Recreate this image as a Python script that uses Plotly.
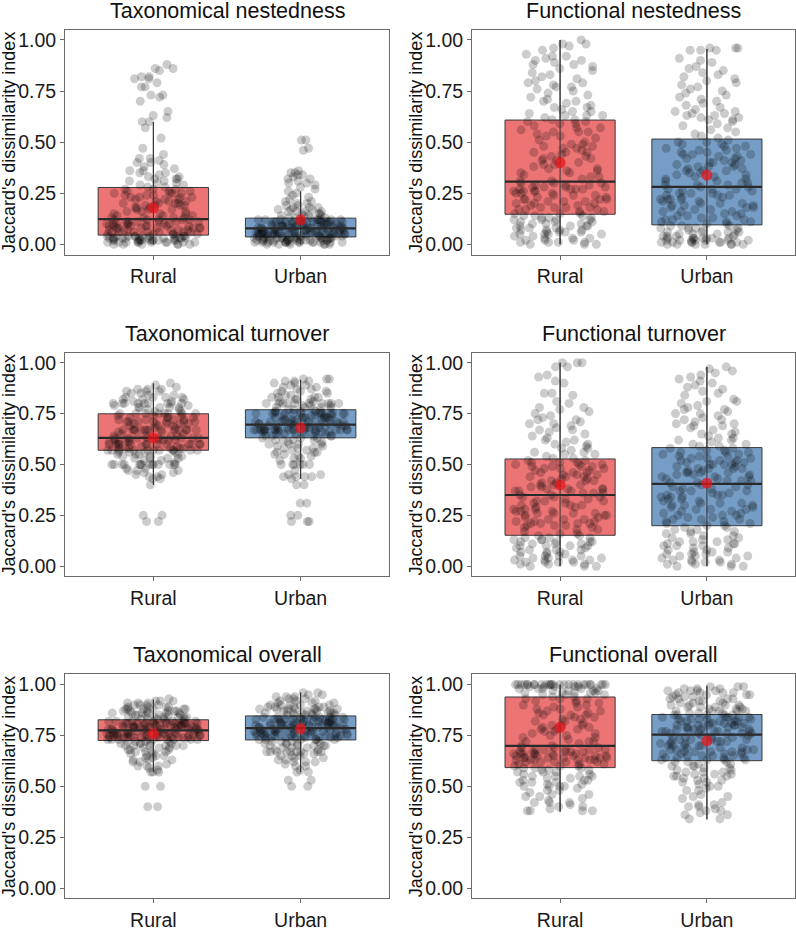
import plotly.graph_objects as go

groups = ["Rural", "Urban"]
panel_titles = ["Taxonomical nestedness", "Functional nestedness",
                "Taxonomical turnover", "Functional turnover",
                "Taxonomical overall", "Functional overall"]
y_ticks = [0, 0.25, 0.5, 0.75, 1.0]
y_ticklabels = ["0.00", "0.25", "0.50", "0.75", "1.00"]

# box statistics: [Rural, Urban]
q1 = [[0.045, 0.036], [0.147, 0.095], [0.570, 0.631], [0.152, 0.199], [0.725, 0.728], [0.592, 0.626]]
median = [[0.123, 0.078], [0.307, 0.281], [0.631, 0.696], [0.350, 0.405], [0.775, 0.786], [0.699, 0.754]]
q3 = [[0.278, 0.128], [0.608, 0.515], [0.749, 0.769], [0.527, 0.583], [0.827, 0.846], [0.939, 0.853]]
low_whisker = [[0.0, 0.0], [0.0, 0.0], [0.400, 0.429], [0.0, 0.0], [0.571, 0.571], [0.375, 0.337]]
high_whisker = [[0.598, 0.259], [1.0, 0.956], [0.898, 0.916], [1.0, 0.979], [0.926, 0.961], [1.0, 0.994]]
mean = [[0.178, 0.120], [0.399, 0.339], [0.631, 0.680], [0.400, 0.408], [0.759, 0.783], [0.790, 0.723]]

# individual pair values (estimated from the jittered clouds)
tax_nest_rural = [0.00,0.01,0.01,0.02,0.02,0.02,0.03,0.03,0.03,0.04,0.04,0.00,0.01,0.02,0.03,0.04,0.01,0.02,0.03,0.04,0.00,0.01,0.02,0.03,0.04,0.02,0.03,0.01,0.04,0.03,
                  0.05,0.05,0.06,0.06,0.07,0.07,0.08,0.08,0.08,0.09,0.09,0.10,0.10,0.10,0.11,0.11,0.12,0.12,0.05,0.06,0.07,0.08,0.09,0.10,0.11,0.06,0.08,0.12,0.09,0.11,
                  0.13,0.13,0.14,0.15,0.15,0.16,0.17,0.17,0.18,0.19,0.19,0.20,0.21,0.21,0.22,0.23,0.23,0.24,0.25,0.25,0.26,0.27,0.27,0.14,0.17,0.20,0.23,0.26,0.18,0.22,
                  0.28,0.29,0.30,0.31,0.32,0.32,0.33,0.34,0.35,0.36,0.38,0.40,0.41,0.42,0.47,0.52,0.57,0.60,0.62,0.63,0.70,0.72,0.73,0.77,0.79,0.81,0.82,0.85,0.86,0.88,
                  0.00,0.01,0.02,0.03,0.04,0.01,0.02,0.03,0.00,0.02,0.04,0.01,0.03,0.02,0.04,0.00,0.03,0.01,0.02,0.04,
                  0.05,0.06,0.07,0.08,0.09,0.10,0.11,0.12,0.06,0.07,0.09,0.10,0.12,0.05,0.08,0.11,0.07,0.09,0.10,0.06,
                  0.13,0.15,0.16,0.18,0.19,0.20,0.22,0.24,0.25,0.27,0.14,0.16,0.19,0.21,0.23,0.24,0.26,0.13,0.20,0.25,
                  0.28,0.29,0.30,0.31,0.32,0.33,0.35,0.36,0.37,0.39,0.40,0.42,0.44,0.60,0.65,0.73,0.77,0.81,0.82,0.86]
tax_nest_urban = [0.00,0.01,0.01,0.01,0.02,0.02,0.02,0.03,0.03,0.03,0.00,0.01,0.02,0.03,0.01,0.02,0.03,0.00,0.01,0.02,0.03,0.01,0.02,0.03,0.02,0.01,0.03,0.02,0.01,0.03,
                  0.04,0.04,0.04,0.05,0.05,0.05,0.05,0.06,0.06,0.06,0.06,0.07,0.07,0.07,0.07,0.04,0.05,0.06,0.07,0.04,0.05,0.06,0.07,0.04,0.05,0.06,0.07,0.05,0.06,0.04,
                  0.08,0.08,0.08,0.09,0.09,0.09,0.10,0.10,0.10,0.11,0.11,0.11,0.12,0.12,0.12,0.08,0.09,0.10,0.11,0.12,0.08,0.09,0.10,0.11,0.12,0.09,0.10,0.11,0.08,0.12,
                  0.13,0.13,0.14,0.14,0.15,0.15,0.16,0.16,0.17,0.17,0.18,0.19,0.20,0.21,0.22,0.24,0.25,0.26,0.27,0.29,0.30,0.31,0.32,0.33,0.34,0.35,0.36,0.46,0.51,0.51,
                  0.00,0.01,0.02,0.03,0.01,0.02,0.03,0.00,0.01,0.02,0.03,0.01,0.02,0.03,0.00,0.02,0.01,0.03,0.02,0.01,
                  0.04,0.05,0.06,0.07,0.04,0.05,0.06,0.07,0.05,0.06,0.04,0.05,0.06,0.07,0.04,0.06,0.05,0.07,0.06,0.05,
                  0.08,0.09,0.10,0.11,0.12,0.08,0.09,0.10,0.11,0.12,0.08,0.10,0.09,0.11,0.12,0.10,0.08,0.09,0.11,0.10,
                  0.13,0.14,0.15,0.16,0.17,0.18,0.19,0.20,0.13,0.14,0.16,0.18,0.21,0.23,0.28,0.30,0.32,0.34,0.35,0.47]
func_nest_rural = [0.00,0.00,0.01,0.01,0.02,0.03,0.03,0.04,0.05,0.05,0.06,0.06,0.07,0.07,0.08,0.08,0.09,0.09,0.10,0.10,0.11,0.11,0.12,0.12,0.13,0.13,0.14,0.14,0.02,0.06,
                   0.15,0.15,0.16,0.17,0.18,0.18,0.19,0.20,0.20,0.21,0.22,0.22,0.23,0.24,0.24,0.25,0.26,0.26,0.27,0.27,0.28,0.28,0.29,0.29,0.30,0.30,0.27,0.21,0.17,0.25,
                   0.31,0.32,0.33,0.34,0.35,0.36,0.37,0.38,0.39,0.40,0.41,0.42,0.43,0.44,0.45,0.45,0.46,0.47,0.48,0.49,0.50,0.52,0.53,0.54,0.55,0.56,0.57,0.58,0.59,0.60,
                   0.61,0.62,0.63,0.64,0.65,0.66,0.67,0.68,0.70,0.71,0.73,0.74,0.76,0.77,0.78,0.79,0.80,0.82,0.83,0.85,0.86,0.88,0.89,0.90,0.91,0.92,0.95,0.97,0.98,1.00,
                   0.00,0.01,0.02,0.04,0.05,0.06,0.07,0.08,0.09,0.10,0.11,0.12,0.13,0.14,0.03,0.05,0.09,0.12,0.01,0.07,
                   0.15,0.16,0.17,0.18,0.19,0.20,0.21,0.22,0.23,0.24,0.25,0.26,0.27,0.28,0.29,0.30,0.18,0.22,0.26,0.28,
                   0.31,0.33,0.35,0.37,0.39,0.41,0.43,0.45,0.47,0.49,0.51,0.53,0.55,0.57,0.59,0.60,0.36,0.42,0.48,0.55,
                   0.61,0.63,0.65,0.67,0.69,0.72,0.75,0.77,0.79,0.81,0.84,0.87,0.88,0.90,0.92,0.93,0.96,0.98,0.63,0.70]
func_nest_urban = [0.00,0.00,0.00,0.01,0.01,0.01,0.02,0.02,0.02,0.03,0.03,0.03,0.04,0.04,0.05,0.05,0.06,0.06,0.07,0.07,0.08,0.08,0.09,0.09,0.00,0.01,0.02,0.03,0.04,0.06,
                   0.10,0.11,0.11,0.12,0.13,0.14,0.14,0.15,0.16,0.17,0.17,0.18,0.19,0.20,0.20,0.21,0.22,0.22,0.23,0.24,0.25,0.25,0.26,0.27,0.27,0.28,0.12,0.16,0.19,0.24,
                   0.29,0.29,0.30,0.31,0.32,0.33,0.34,0.35,0.36,0.37,0.38,0.38,0.39,0.40,0.41,0.42,0.42,0.43,0.44,0.45,0.46,0.47,0.48,0.49,0.50,0.51,0.33,0.40,0.44,0.36,
                   0.52,0.54,0.56,0.58,0.60,0.61,0.62,0.63,0.64,0.65,0.66,0.68,0.70,0.72,0.74,0.75,0.77,0.78,0.80,0.82,0.84,0.86,0.87,0.89,0.91,0.95,0.95,0.96,0.96,0.96,
                   0.00,0.00,0.01,0.01,0.02,0.02,0.03,0.03,0.04,0.05,0.06,0.07,0.08,0.09,0.00,0.01,0.02,0.03,0.05,0.08,
                   0.10,0.11,0.12,0.13,0.15,0.16,0.18,0.19,0.20,0.21,0.22,0.23,0.24,0.25,0.26,0.27,0.28,0.14,0.18,0.22,
                   0.29,0.30,0.31,0.32,0.34,0.35,0.36,0.37,0.38,0.39,0.40,0.41,0.43,0.44,0.45,0.46,0.47,0.48,0.49,0.50,
                   0.53,0.55,0.57,0.59,0.61,0.62,0.63,0.64,0.65,0.67,0.69,0.71,0.73,0.76,0.79,0.81,0.83,0.85,0.90,0.95]
tax_turn_rural = [0.22,0.22,0.25,0.25,0.40,0.43,0.44,0.45,0.46,0.47,0.50,0.50,0.50,0.50,0.50,0.50,0.50,0.52,0.53,0.53,0.54,0.55,0.55,0.56,0.56,0.43,0.48,0.50,0.47,0.54,
                  0.57,0.57,0.57,0.57,0.57,0.58,0.58,0.59,0.60,0.60,0.60,0.60,0.60,0.60,0.61,0.62,0.62,0.62,0.63,0.63,0.63,0.63,0.57,0.58,0.60,0.62,0.57,0.60,0.63,0.61,
                  0.64,0.64,0.65,0.66,0.67,0.67,0.67,0.67,0.67,0.67,0.68,0.69,0.70,0.70,0.71,0.71,0.71,0.72,0.72,0.73,0.73,0.74,0.74,0.67,0.70,0.71,0.67,0.64,0.69,0.72,
                  0.75,0.75,0.75,0.75,0.76,0.77,0.78,0.78,0.78,0.79,0.80,0.80,0.80,0.80,0.81,0.82,0.82,0.83,0.83,0.84,0.85,0.86,0.86,0.87,0.87,0.88,0.89,0.90,0.75,0.80,
                  0.44,0.45,0.46,0.47,0.48,0.50,0.50,0.50,0.50,0.50,0.51,0.52,0.53,0.54,0.55,0.55,0.56,0.56,0.50,0.53,
                  0.57,0.57,0.57,0.58,0.58,0.59,0.60,0.60,0.60,0.60,0.61,0.62,0.62,0.63,0.63,0.57,0.60,0.62,0.58,0.63,
                  0.64,0.65,0.66,0.67,0.67,0.67,0.67,0.68,0.69,0.70,0.71,0.71,0.72,0.73,0.74,0.67,0.70,0.71,0.73,0.67,
                  0.75,0.75,0.76,0.77,0.78,0.78,0.79,0.80,0.80,0.80,0.81,0.82,0.83,0.83,0.84,0.85,0.86,0.87,0.75,0.80]
tax_turn_urban = [0.22,0.22,0.22,0.25,0.25,0.31,0.31,0.40,0.40,0.43,0.44,0.44,0.44,0.45,0.50,0.50,0.50,0.53,0.54,0.55,0.56,0.57,0.58,0.59,0.60,0.60,0.61,0.62,0.62,0.50,
                  0.63,0.64,0.64,0.65,0.65,0.66,0.67,0.67,0.67,0.67,0.67,0.67,0.67,0.67,0.68,0.68,0.69,0.69,0.69,0.67,0.66,0.64,0.67,0.68,0.65,0.67,0.69,0.63,0.67,0.66,
                  0.70,0.70,0.71,0.71,0.71,0.72,0.72,0.73,0.73,0.74,0.74,0.75,0.75,0.75,0.75,0.76,0.76,0.70,0.71,0.72,0.73,0.75,0.70,0.74,0.75,0.76,0.71,0.73,0.75,0.72,
                  0.77,0.77,0.78,0.78,0.79,0.79,0.80,0.80,0.80,0.80,0.80,0.81,0.82,0.82,0.83,0.83,0.84,0.85,0.86,0.86,0.87,0.88,0.89,0.90,0.91,0.91,0.92,0.92,0.80,0.78,
                  0.44,0.45,0.47,0.50,0.50,0.52,0.53,0.54,0.55,0.56,0.57,0.58,0.58,0.59,0.60,0.60,0.61,0.62,0.62,0.56,
                  0.63,0.64,0.65,0.66,0.67,0.67,0.67,0.67,0.67,0.68,0.69,0.69,0.64,0.66,0.67,0.68,0.65,0.67,0.69,0.67,
                  0.70,0.70,0.71,0.71,0.72,0.73,0.73,0.74,0.75,0.75,0.75,0.76,0.76,0.70,0.72,0.74,0.75,0.71,0.73,0.75,
                  0.77,0.78,0.79,0.80,0.80,0.80,0.81,0.82,0.83,0.84,0.85,0.86,0.87,0.88,0.89,0.90,0.91,0.92,0.80,0.83]
func_turn_rural = [0.00,0.00,0.01,0.01,0.02,0.02,0.03,0.03,0.04,0.04,0.05,0.05,0.06,0.07,0.07,0.08,0.09,0.10,0.10,0.11,0.11,0.12,0.12,0.13,0.13,0.14,0.14,0.15,0.03,0.08,
                   0.16,0.17,0.18,0.19,0.20,0.20,0.21,0.21,0.22,0.23,0.23,0.24,0.25,0.25,0.26,0.26,0.27,0.28,0.28,0.29,0.30,0.30,0.31,0.32,0.32,0.33,0.34,0.34,0.21,0.27,
                   0.35,0.36,0.36,0.37,0.38,0.38,0.39,0.40,0.40,0.41,0.42,0.42,0.43,0.44,0.44,0.45,0.46,0.46,0.47,0.48,0.48,0.49,0.49,0.50,0.50,0.51,0.51,0.52,0.38,0.45,
                   0.53,0.54,0.55,0.56,0.57,0.58,0.59,0.60,0.61,0.62,0.64,0.66,0.67,0.68,0.70,0.71,0.72,0.73,0.75,0.77,0.78,0.81,0.84,0.85,0.90,0.93,0.94,0.98,1.00,1.00,
                   0.00,0.01,0.02,0.03,0.04,0.05,0.06,0.07,0.08,0.09,0.10,0.11,0.12,0.13,0.14,0.15,0.02,0.05,0.10,0.12,
                   0.16,0.18,0.19,0.20,0.21,0.22,0.23,0.24,0.25,0.26,0.27,0.28,0.29,0.30,0.31,0.32,0.33,0.34,0.22,0.26,
                   0.35,0.36,0.37,0.38,0.39,0.40,0.41,0.42,0.43,0.44,0.45,0.46,0.47,0.48,0.49,0.50,0.51,0.52,0.37,0.49,
                   0.53,0.55,0.56,0.58,0.60,0.62,0.63,0.65,0.67,0.69,0.70,0.72,0.74,0.76,0.78,0.80,0.85,0.91,0.98,1.00]
func_turn_urban = [0.00,0.00,0.01,0.01,0.02,0.02,0.03,0.03,0.04,0.05,0.05,0.06,0.07,0.07,0.08,0.09,0.10,0.10,0.11,0.11,0.12,0.12,0.13,0.14,0.15,0.16,0.17,0.18,0.19,0.06,
                   0.20,0.21,0.22,0.23,0.23,0.24,0.25,0.26,0.27,0.28,0.28,0.29,0.30,0.31,0.31,0.32,0.33,0.34,0.34,0.35,0.36,0.37,0.37,0.38,0.39,0.40,0.40,0.25,0.30,0.35,
                   0.41,0.42,0.42,0.43,0.44,0.44,0.45,0.46,0.46,0.47,0.48,0.48,0.49,0.50,0.50,0.51,0.52,0.52,0.53,0.54,0.54,0.55,0.56,0.56,0.57,0.58,0.45,0.50,0.53,0.48,
                   0.59,0.60,0.61,0.62,0.63,0.64,0.65,0.66,0.68,0.69,0.70,0.71,0.72,0.74,0.75,0.76,0.77,0.78,0.80,0.81,0.82,0.85,0.87,0.88,0.90,0.92,0.93,0.95,0.97,0.98,
                   0.00,0.01,0.02,0.03,0.04,0.05,0.06,0.07,0.08,0.09,0.10,0.11,0.12,0.13,0.14,0.15,0.16,0.17,0.18,0.19,
                   0.20,0.21,0.22,0.23,0.24,0.25,0.26,0.27,0.28,0.29,0.30,0.31,0.32,0.33,0.34,0.35,0.36,0.37,0.38,0.39,
                   0.41,0.42,0.43,0.44,0.45,0.46,0.47,0.48,0.49,0.50,0.51,0.52,0.53,0.54,0.55,0.56,0.57,0.58,0.46,0.51,
                   0.59,0.60,0.62,0.63,0.65,0.67,0.69,0.70,0.72,0.73,0.75,0.77,0.79,0.81,0.84,0.86,0.89,0.91,0.94,0.96]
tax_over_rural = [0.40,0.40,0.50,0.50,0.57,0.57,0.58,0.59,0.60,0.61,0.62,0.63,0.63,0.64,0.65,0.66,0.67,0.67,0.68,0.69,0.70,0.70,0.71,0.71,0.72,0.60,0.65,0.69,0.70,0.72,
                  0.73,0.73,0.73,0.74,0.74,0.74,0.75,0.75,0.75,0.75,0.75,0.76,0.76,0.76,0.77,0.77,0.77,0.73,0.74,0.75,0.76,0.77,0.73,0.74,0.75,0.76,0.77,0.75,0.74,0.76,
                  0.78,0.78,0.78,0.79,0.79,0.79,0.80,0.80,0.80,0.80,0.81,0.81,0.81,0.82,0.82,0.82,0.78,0.79,0.80,0.81,0.82,0.78,0.79,0.80,0.81,0.82,0.80,0.79,0.81,0.78,
                  0.83,0.83,0.83,0.84,0.84,0.84,0.85,0.85,0.85,0.86,0.86,0.86,0.87,0.87,0.87,0.88,0.88,0.88,0.89,0.89,0.90,0.90,0.91,0.91,0.92,0.92,0.93,0.84,0.86,0.88,
                  0.57,0.60,0.62,0.63,0.64,0.65,0.66,0.67,0.67,0.68,0.69,0.70,0.70,0.71,0.71,0.72,0.72,0.68,0.70,0.71,
                  0.73,0.73,0.74,0.74,0.75,0.75,0.75,0.76,0.76,0.77,0.77,0.73,0.74,0.75,0.76,0.77,0.75,0.74,0.76,0.73,
                  0.78,0.78,0.79,0.79,0.80,0.80,0.80,0.81,0.81,0.82,0.82,0.78,0.79,0.80,0.81,0.82,0.80,0.79,0.81,0.78,
                  0.83,0.83,0.84,0.84,0.85,0.85,0.86,0.86,0.87,0.87,0.88,0.88,0.89,0.89,0.90,0.90,0.91,0.92,0.85,0.87]
tax_over_urban = [0.50,0.50,0.53,0.53,0.57,0.57,0.58,0.60,0.61,0.62,0.63,0.64,0.65,0.65,0.66,0.67,0.67,0.67,0.67,0.68,0.69,0.70,0.70,0.71,0.71,0.72,0.72,0.67,0.62,0.70,
                  0.73,0.73,0.74,0.74,0.74,0.75,0.75,0.75,0.76,0.76,0.76,0.77,0.77,0.77,0.78,0.78,0.78,0.73,0.75,0.77,0.78,0.74,0.76,0.78,0.75,0.77,0.73,0.76,0.74,0.78,
                  0.79,0.79,0.80,0.80,0.80,0.81,0.81,0.81,0.82,0.82,0.82,0.83,0.83,0.83,0.84,0.84,0.79,0.80,0.81,0.82,0.83,0.84,0.80,0.82,0.83,0.81,0.79,0.84,0.80,0.82,
                  0.85,0.85,0.85,0.86,0.86,0.86,0.87,0.87,0.87,0.88,0.88,0.88,0.89,0.89,0.89,0.90,0.90,0.91,0.91,0.92,0.92,0.93,0.93,0.94,0.94,0.95,0.96,0.96,0.86,0.88,
                  0.60,0.62,0.63,0.64,0.65,0.66,0.67,0.67,0.67,0.68,0.69,0.70,0.70,0.71,0.71,0.72,0.72,0.67,0.69,0.71,
                  0.73,0.74,0.74,0.75,0.75,0.76,0.76,0.77,0.77,0.78,0.78,0.73,0.75,0.77,0.74,0.76,0.78,0.75,0.77,0.76,
                  0.79,0.79,0.80,0.80,0.81,0.81,0.82,0.82,0.83,0.83,0.84,0.84,0.79,0.81,0.83,0.80,0.82,0.84,0.81,0.83,
                  0.85,0.85,0.86,0.86,0.87,0.87,0.88,0.88,0.89,0.89,0.90,0.90,0.91,0.92,0.93,0.94,0.95,0.86,0.88,0.90]
func_over_rural = [0.38,0.38,0.38,0.39,0.40,0.41,0.42,0.42,0.43,0.45,0.46,0.47,0.48,0.49,0.50,0.50,0.51,0.52,0.53,0.53,0.54,0.55,0.55,0.56,0.57,0.57,0.58,0.58,0.59,0.52,
                   0.60,0.60,0.61,0.61,0.62,0.62,0.63,0.63,0.63,0.64,0.64,0.64,0.65,0.65,0.65,0.66,0.66,0.66,0.67,0.67,0.67,0.68,0.68,0.69,0.69,0.62,0.64,0.66,0.68,0.63,
                   0.70,0.71,0.72,0.73,0.74,0.75,0.76,0.77,0.78,0.78,0.79,0.80,0.81,0.82,0.83,0.84,0.85,0.85,0.86,0.87,0.88,0.89,0.90,0.90,0.91,0.92,0.93,0.93,0.72,0.80,
                   0.94,0.95,0.95,0.96,0.96,0.97,0.97,0.98,0.98,0.99,0.99,1.00,1.00,1.00,1.00,1.00,1.00,1.00,1.00,1.00,1.00,1.00,1.00,0.96,0.98,1.00,1.00,0.99,0.97,1.00,
                   0.38,0.40,0.42,0.44,0.46,0.48,0.50,0.51,0.52,0.53,0.54,0.55,0.56,0.57,0.58,0.59,0.59,0.45,0.50,0.55,
                   0.60,0.61,0.62,0.63,0.63,0.64,0.64,0.65,0.65,0.66,0.66,0.67,0.67,0.68,0.68,0.69,0.62,0.64,0.66,0.65,
                   0.70,0.72,0.74,0.75,0.76,0.78,0.79,0.80,0.82,0.83,0.84,0.86,0.87,0.88,0.89,0.91,0.92,0.93,0.77,0.85,
                   0.94,0.95,0.96,0.97,0.98,0.99,1.00,1.00,1.00,1.00,1.00,1.00,1.00,1.00,1.00,0.96,0.98,0.99,1.00,1.00]
func_over_urban = [0.34,0.34,0.36,0.37,0.38,0.39,0.40,0.41,0.42,0.44,0.45,0.46,0.48,0.49,0.50,0.51,0.52,0.53,0.54,0.55,0.56,0.56,0.57,0.58,0.59,0.60,0.60,0.61,0.62,0.55,
                   0.63,0.63,0.64,0.64,0.65,0.65,0.66,0.66,0.67,0.67,0.68,0.68,0.69,0.69,0.70,0.70,0.71,0.71,0.72,0.72,0.73,0.73,0.74,0.74,0.75,0.63,0.65,0.67,0.70,0.73,
                   0.76,0.76,0.77,0.77,0.78,0.78,0.79,0.79,0.80,0.80,0.81,0.81,0.82,0.82,0.83,0.83,0.84,0.84,0.85,0.85,0.76,0.78,0.80,0.82,0.84,0.77,0.79,0.81,0.83,0.85,
                   0.86,0.86,0.87,0.87,0.88,0.88,0.89,0.89,0.90,0.90,0.91,0.92,0.92,0.93,0.94,0.94,0.95,0.95,0.96,0.96,0.97,0.97,0.98,0.98,0.99,0.99,0.87,0.90,0.93,0.96,
                   0.36,0.38,0.40,0.41,0.45,0.48,0.50,0.52,0.53,0.54,0.55,0.56,0.57,0.58,0.59,0.60,0.61,0.62,0.62,0.57,
                   0.63,0.64,0.65,0.66,0.67,0.68,0.69,0.70,0.71,0.72,0.73,0.74,0.75,0.64,0.66,0.68,0.70,0.72,0.74,0.67,
                   0.76,0.77,0.78,0.79,0.80,0.81,0.82,0.83,0.84,0.85,0.76,0.78,0.80,0.82,0.84,0.77,0.79,0.81,0.83,0.85,
                   0.86,0.87,0.88,0.89,0.90,0.91,0.92,0.93,0.94,0.95,0.96,0.97,0.98,0.99,0.87,0.89,0.91,0.93,0.95,0.97]

points = [[tax_nest_rural, tax_nest_urban], [func_nest_rural, func_nest_urban],
          [tax_turn_rural, tax_turn_urban], [func_turn_rural, func_turn_urban],
          [tax_over_rural, tax_over_urban], [func_over_rural, func_over_urban]]

# ---------------- styling / layout ----------------
W, H = 796, 931
FONT = "Liberation Sans, Arial, Helvetica, sans-serif"
box_fill = ["rgba(226,30,32,0.62)", "rgba(60,116,172,0.7)"]
edge = "#3a3a3a"
frame = "#6b6b6b"
BOXW = 0.75
positions = [1, 2]

col_px = [(65, 389), (472, 795)]
row_px = [(29, 256), (355, 581), (680, 906)]

fig = go.Figure()
layout = dict(width=W, height=H, margin=dict(l=0, r=0, t=0, b=0),
              paper_bgcolor="white", plot_bgcolor="white", showlegend=False,
              boxmode="overlay", annotations=[])

for p in range(6):
    r, c = divmod(p, 2)
    k = p + 1
    xa = "x" if k == 1 else f"x{k}"
    ya = "y" if k == 1 else f"y{k}"
    xd = [col_px[c][0] / W, col_px[c][1] / W]
    yd = [1 - row_px[r][1] / H, 1 - row_px[r][0] / H]
    axis_common = dict(showgrid=False, zeroline=False, showline=True, mirror=True,
                       linecolor=frame, linewidth=1, ticks="outside", ticklen=4,
                       tickcolor=frame, tickwidth=1,
                       tickfont=dict(family=FONT, size=19.5, color="#1a1a1a"))
    layout["xaxis" if k == 1 else f"xaxis{k}"] = dict(
        domain=xd, anchor=ya, range=[0.4, 2.6], tickvals=positions, ticktext=groups, **axis_common)
    layout["yaxis" if k == 1 else f"yaxis{k}"] = dict(
        domain=yd, anchor=xa, range=[-0.05, 1.05], tickvals=y_ticks, ticktext=y_ticklabels, **axis_common)

    for g in range(2):
        pos = positions[g]
        # box from precomputed stats
        fig.add_trace(go.Box(x=[pos], q1=[q1[p][g]], median=[median[p][g]], q3=[q3[p][g]],
                             lowerfence=[low_whisker[p][g]], upperfence=[high_whisker[p][g]],
                             width=BOXW, fillcolor=box_fill[g], whiskerwidth=0,
                             line=dict(color=edge, width=1), boxpoints=False,
                             xaxis=xa, yaxis=ya, hoverinfo="skip"))
    for g in range(2):
        pos = positions[g]
        vals = points[p][g]
        fig.add_trace(go.Box(x=[pos] * len(vals), y=vals, boxpoints="all", jitter=0.85, pointpos=0,
                             width=BOXW, fillcolor="rgba(0,0,0,0)",
                             line=dict(color="rgba(0,0,0,0)", width=0),
                             marker=dict(size=9, color="rgba(0,0,0,0.2)"),
                             xaxis=xa, yaxis=ya, hoverinfo="y"))
    for g in range(2):
        pos = positions[g]
        # whisker through the box
        fig.add_trace(go.Scatter(x=[pos, pos], y=[low_whisker[p][g], high_whisker[p][g]], mode="lines",
                                 line=dict(color="#333333", width=1), xaxis=xa, yaxis=ya, hoverinfo="skip"))
        # thick median bar
        fig.add_trace(go.Scatter(x=[pos - BOXW / 2, pos + BOXW / 2], y=[median[p][g], median[p][g]],
                                 mode="lines", line=dict(color="#2a2a2a", width=2.2),
                                 xaxis=xa, yaxis=ya, hoverinfo="skip"))
    fig.add_trace(go.Scatter(x=positions, y=mean[p], mode="markers",
                             marker=dict(size=11, color="rgba(230,20,25,0.75)"),
                             xaxis=xa, yaxis=ya, hoverinfo="y"))

    layout["annotations"].append(dict(
        text=panel_titles[p], xref="paper", yref="paper", x=sum(xd) / 2, y=yd[1],
        xanchor="center", yanchor="bottom", yshift=5, showarrow=False,
        font=dict(family=FONT, size=21.5, color="#111111")))
    layout["annotations"].append(dict(
        text="Jaccard's dissimilarity index", xref="paper", yref="paper",
        x=(9 if c == 0 else 416) / W, y=sum(yd) / 2, xanchor="center", yanchor="middle",
        textangle=-90, showarrow=False, font=dict(family=FONT, size=18, color="#111111")))

fig.update_layout(**layout)
fig.write_html("out.html")
